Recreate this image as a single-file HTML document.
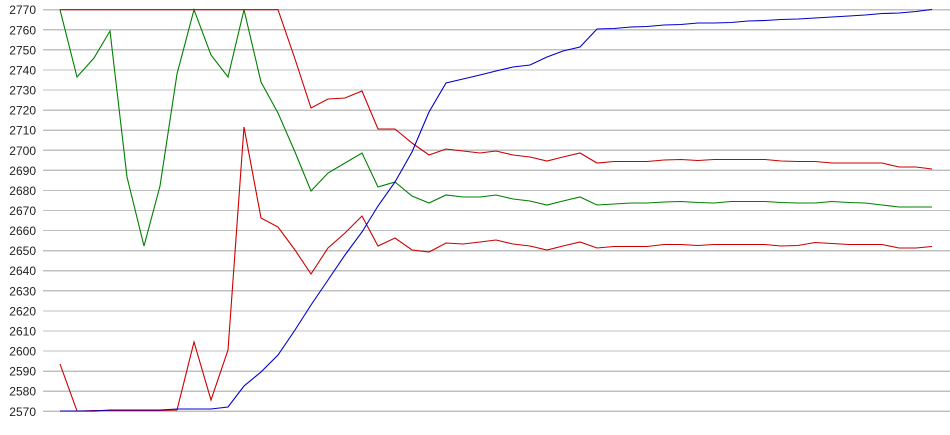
<!DOCTYPE html>
<html><head><meta charset="utf-8"><style>
html,body{margin:0;padding:0;background:#fff;}
svg{display:block;}
text{font-family:"Liberation Sans",Arial,sans-serif;font-size:12px;fill:#222;}
</style></head><body>
<svg width="950" height="435" viewBox="0 0 950 435" xmlns="http://www.w3.org/2000/svg">
<g id="grid" stroke="#c0c0c0" stroke-width="1.3" shape-rendering="crispEdges"></g>
<g id="labels" text-anchor="end"></g>
<polyline fill="none" stroke="#008000" stroke-width="1.1" points="60,9.7 77,77 94,58 110,31 127,177 144,246 160,186 177,74 194,9.7 211,55 228,77 244,9.7 261,82 278,113 295,152 311,191 328,173 345,163 362,153 378,187 395,182 412,196 429,203 446,195 463,197 480,197 496,195 513,199 530,201 547,205 563,201 580,197 597,205 614,204 631,203 647,203 664,202 681,201.5 698,202.5 714,203 731,201.5 748,201.5 765,201.5 781,202.5 798,203 815,203 832,201.5 849,202.5 865,203 882,205 899,207 916,207 932,207"/>
<polyline fill="none" stroke="#cc0000" stroke-width="1.1" points="60,9.7 77,9.7 94,9.7 110,9.7 127,9.7 144,9.7 160,9.7 177,9.7 194,9.7 211,9.7 228,9.7 244,9.7 261,9.7 278,9.7 295,59 311,108 328,99 345,98 362,91 378,129 395,129 412,143 429,155 446,149 463,151 480,153 496,151 513,155 530,157 547,161 563,157 580,153 597,163 614,161.5 631,161.5 647,161.5 664,160 681,159.5 698,160.5 714,159.5 731,159.5 748,159.5 765,159.5 781,161 798,161.5 815,161.5 832,163 849,163 865,163 882,163 899,167 916,167 932,169"/>
<polyline fill="none" stroke="#cc0000" stroke-width="1.1" points="60,364 77,411 94,410.5 110,410.5 127,410.5 144,410.5 160,410.5 177,410 194,342 211,400 228,350 244,127 261,218 278,227 295,250 311,274 328,248 345,233 362,216 378,246 395,238 412,250 429,252 446,243 463,244 480,242 496,240 513,244 530,246 547,250 563,246 580,242 597,248 614,246.5 631,246.5 647,246.5 664,244.5 681,244.5 698,245.5 714,244.5 731,244.5 748,244.5 765,244.5 781,246 798,245.5 815,242.5 832,243.5 849,244.5 865,244.5 882,244.5 899,248 916,248 932,246.5"/>
<polyline fill="none" stroke="#0000cc" stroke-width="1.1" points="60,411 77,411 94,411 110,410 127,410 144,410 160,410 177,409 194,409 211,409 228,407 244,386 261,372 278,355 295,330 311,305 328,280 345,255 362,232 378,206 395,182 412,152 429,112 446,83 463,79 480,75 496,71 513,67 530,65 547,57 563,51 580,47 597,29 614,28.5 631,27 647,26.5 664,25 681,24.5 698,23 714,23 731,22.5 748,21 765,20.5 781,19.5 798,19 815,18 832,17 849,16 865,15 882,13.5 899,13 916,11.5 932,9.5"/>
<script>
var g=document.getElementById('grid'),l=document.getElementById('labels'),ns='http://www.w3.org/2000/svg';
for(var i=0;i<=20;i++){var v=2770-i*10,y=9.7+i*20.08;
var ln=document.createElementNS(ns,'line');ln.setAttribute('x1',43);ln.setAttribute('x2',950);ln.setAttribute('y1',y);ln.setAttribute('y2',y);g.appendChild(ln);
var t=document.createElementNS(ns,'text');t.setAttribute('x',36);t.setAttribute('y',y+4.5);t.textContent=v;l.appendChild(t);}
</script>
</svg>
</body></html>
